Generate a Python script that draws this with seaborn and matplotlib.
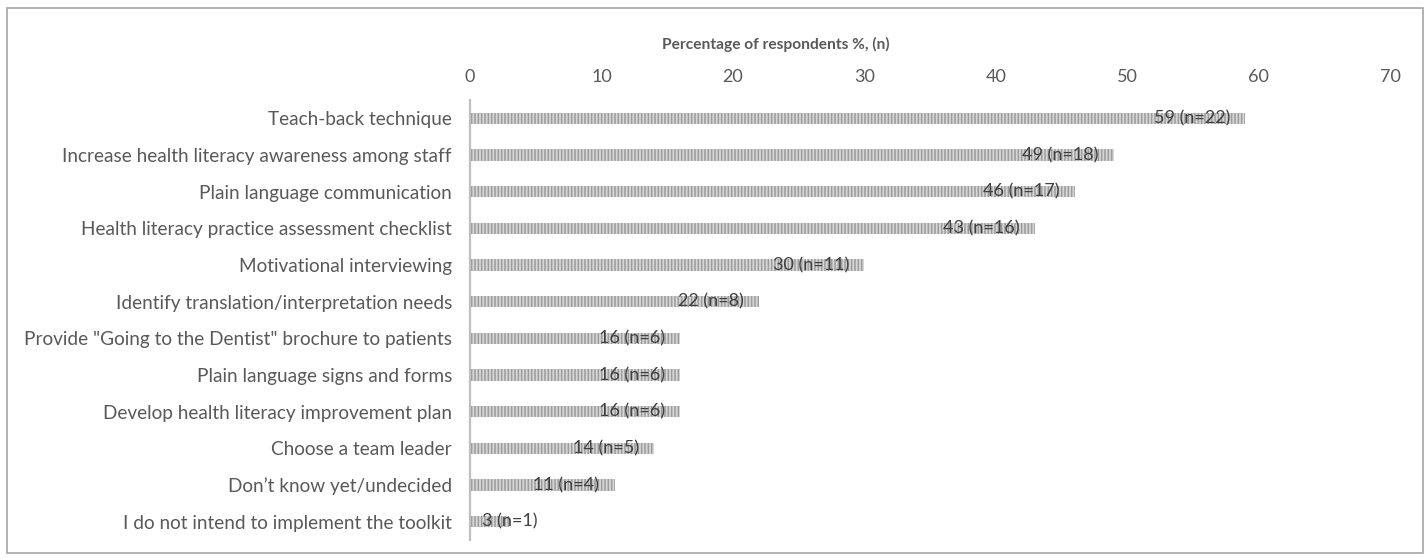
import matplotlib
matplotlib.use("Agg")
import matplotlib.pyplot as plt
import seaborn as sns
import pandas as pd

categories = [
    "Teach-back technique",
    "Increase health literacy awareness among staff",
    "Plain language communication",
    "Health literacy practice assessment checklist",
    "Motivational interviewing",
    "Identify translation/interpretation needs",
    'Provide "Going to the Dentist" brochure to patients',
    "Plain language signs and forms",
    "Develop health literacy improvement plan",
    "Choose a team leader",
    "Don\u2019t know yet/undecided",
    "I do not intend to implement the toolkit",
]
percent = [59, 49, 46, 43, 30, 22, 16, 16, 16, 14, 11, 3]
counts = [22, 18, 17, 16, 11, 8, 6, 6, 6, 5, 4, 1]
x_ticks = [0, 10, 20, 30, 40, 50, 60, 70]
axis_title = "Percentage of respondents %, (n)"

sns.set_theme(style="white")
plt.rcParams["font.family"] = ["Lato", "DejaVu Sans"]
plt.rcParams["hatch.linewidth"] = 1.1

df = pd.DataFrame({"category": categories, "percent": percent, "n": counts})

fig = plt.figure(figsize=(14.28, 5.59), dpi=100)
ax = fig.add_axes([470 / 1428, 1 - 540 / 559, 920 / 1428, 440 / 559])

sns.barplot(data=df, x="percent", y="category", orient="h", ax=ax,
            color="#d6d6d6", edgecolor="#9c9c9c", linewidth=0,
            width=0.31, saturation=1)
for bar in ax.patches:
    bar.set_hatch("|" * 5)

ax.set_xlim(0, 70)
ax.set_ylim(len(categories) - 0.5, -0.5)
ax.set_xticks(x_ticks)
ax.xaxis.tick_top()
ax.tick_params(axis="x", length=0, pad=11, labelsize=13, labelcolor="#595959")
ax.tick_params(axis="y", length=0, pad=13, labelsize=13.7, labelcolor="#595959")
ax.set_xlabel("")
ax.set_ylabel("")

for side in ["top", "right", "bottom"]:
    ax.spines[side].set_visible(False)
ax.spines["left"].set_color("#bfbfbf")
ax.spines["left"].set_linewidth(1.6)
ax.grid(False)

# value labels: right-aligned just inside the bar end, or from the bar start for short bars
for i, (p, n) in enumerate(zip(percent, counts)):
    label = f"{p} (n={n})"
    if p >= 8:
        ax.annotate(label, xy=(p, i), xytext=(-11, 0), textcoords="offset points",
                    ha="right", va="center", fontsize=13, color="#404040")
    else:
        ax.annotate(label, xy=(0, i), xytext=(9, 0), textcoords="offset points",
                    ha="left", va="center", fontsize=13, color="#404040")

fig.text(776 / 1428, 1 - 44 / 559, axis_title, ha="center", va="center",
         fontsize=11.2, fontweight="bold", color="#595959")

# chart-area border
border = plt.Rectangle((7 / 1428, 1 - 553 / 559), 1416 / 1428, 545 / 559,
                       transform=fig.transFigure, fill=False,
                       edgecolor="#a6a6a6", linewidth=1.2)
fig.patches.append(border)

fig.savefig("out.png", dpi=100, facecolor="white")
